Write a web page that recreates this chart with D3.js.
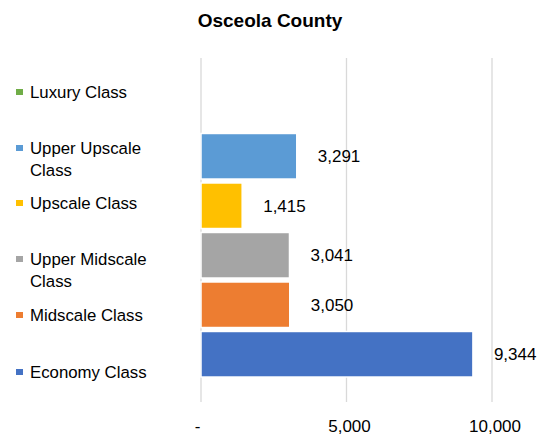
<!DOCTYPE html>
<html><head><meta charset="utf-8">
<script src="https://cdn.jsdelivr.net/npm/d3@7"></script>
<style>
html,body{margin:0;padding:0;background:#fff;}
svg{display:block;font-family:"Liberation Sans",Arial,sans-serif;}
</style></head>
<body>
<svg id="chart" width="543" height="437"></svg>
<script>
const title = "Osceola County";
const categories = ["Luxury Class","Upper Upscale Class","Upscale Class","Upper Midscale Class","Midscale Class","Economy Class"];
const legendLines = [["Luxury Class"],["Upper Upscale","Class"],["Upscale Class"],["Upper Midscale","Class"],["Midscale Class"],["Economy Class"]];
const values = [0, 3291, 1415, 3041, 3050, 9344];
const colors = ["#70AD47","#5B9BD5","#FFC000","#A5A5A5","#ED7D31","#4472C4"];
const tickValues = [0, 5000, 10000];

const svg = d3.select("#chart");
const x = d3.scaleLinear().domain([0, 10000]).range([201, 492]);
const y = d3.scaleBand().domain(categories).range([82, 379]).paddingInner(0.08).paddingOuter(0.04);
const plotTop = 58, plotBottom = 402;

// title
svg.append("text").attr("x", 270).attr("y", 20).attr("text-anchor","middle")
  .attr("dominant-baseline","central").attr("font-weight","bold").attr("font-size",19)
  .attr("fill","#000").text(title);

// gridlines
svg.append("g").selectAll("line").data(tickValues).join("line")
  .attr("x1", d=>x(d)).attr("x2", d=>x(d)).attr("y1", plotTop).attr("y2", plotBottom)
  .attr("stroke","#d9d9d9").attr("stroke-width",1.3);

// axis labels
const axis = d3.axisBottom(x).tickValues(tickValues).tickSize(0)
  .tickFormat(d => d === 0 ? "-" : d3.format(",")(d));
const gAx = svg.append("g").attr("transform",`translate(0,${plotBottom})`).call(axis);
gAx.select(".domain").remove();
gAx.selectAll("text").attr("font-size",17).attr("fill","#000").attr("font-family","Liberation Sans, Arial, sans-serif")
  .attr("y", 24).attr("dy","0.35em")
  .attr("dx", d => d === 0 ? -4 : 2.5);

// bars
svg.append("g").selectAll("rect").data(categories.map((c,i)=>({c,v:values[i],col:colors[i]})).filter(d=>d.v>0)).join("rect")
  .attr("x", x(0)).attr("y", d=>y(d.c)).attr("width", d=>x(d.v)-x(0)).attr("height", y.bandwidth())
  .attr("fill", d=>d.col).attr("stroke","#fff").attr("stroke-width",1.5);

// value labels
svg.append("g").selectAll("text").data(categories.map((c,i)=>({c,v:values[i]})).filter(d=>d.v>0)).join("text")
  .attr("x", d=>x(d.v)+21).attr("y", d=>y(d.c)+y.bandwidth()/2).attr("dy","0.35em")
  .attr("font-size",17).attr("fill","#000").text(d=>d3.format(",")(d.v));

// legend
const legY = [92, 148, 203, 259, 315, 372];
const leg = svg.append("g").selectAll("g").data(categories).join("g")
  .attr("transform",(d,i)=>`translate(0,${legY[i]})`);
leg.append("rect").attr("x",16).attr("y",-3).attr("width",7).attr("height",6).attr("fill",(d,i)=>colors[i]);
leg.each(function(d,i){
  const t = d3.select(this).append("text").attr("x",30).attr("y",0).attr("font-size",16.8).attr("fill","#000");
  legendLines[i].forEach((ln,j)=>{
    t.append("tspan").attr("x",30).attr("y",j*21.7).attr("dy","0.35em").text(ln);
  });
});
</script>
</body></html>
